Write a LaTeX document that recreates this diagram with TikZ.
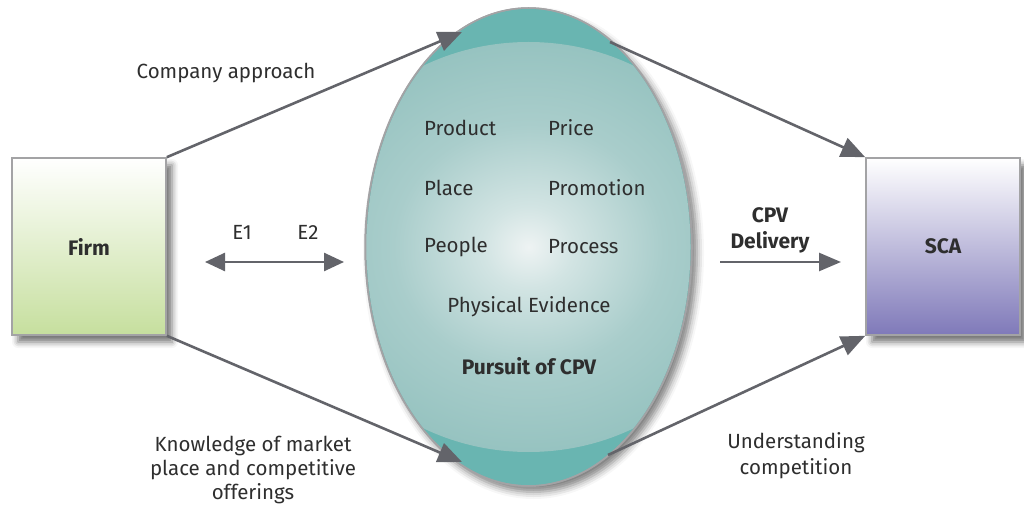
\documentclass[tikz,border=0pt]{standalone}
\usepackage{fontspec}
\setmainfont{Fira Sans}
\usetikzlibrary{arrows.meta,shapes.geometric,shadows.blur}
\definecolor{arrowgray}{HTML}{63646A}
\definecolor{boxborder}{HTML}{A3A3A5}
\definecolor{firmgreen}{HTML}{C6DF9E}
\definecolor{scapurple}{HTML}{7F79B9}
\definecolor{tealouter}{HTML}{69B5B1}
\definecolor{txt}{HTML}{2E2E2E}
\definecolor{sh0}{HTML}{EEF3F3}
\definecolor{sh1}{HTML}{D2E4E3}
\definecolor{sh2}{HTML}{A9CDCB}
\definecolor{sh3}{HTML}{8DBEBB}
\definecolor{sh4}{HTML}{7DB4B1}
\pgfdeclareradialshading{cpvshade}{\pgfpoint{0bp}{0bp}}{%
  color(0bp)=(sh0);
  color(5bp)=(sh1);
  color(15bp)=(sh2);
  color(30bp)=(sh3);
  color(50bp)=(sh4)}
\tikzset{
  conn/.style={draw=arrowgray, line width=2.6pt, -{Triangle[length=24pt,width=20pt]}},
  dconn/.style={draw=arrowgray, line width=2.6pt, {Triangle[length=20pt,width=18pt]}-{Triangle[length=20pt,width=18pt]}},
  sidebox/.style={draw=boxborder, line width=1.6pt, minimum width=154pt, minimum height=177pt, inner sep=0pt,
    blur shadow={shadow xshift=6pt, shadow yshift=-7pt, shadow blur radius=6pt, shadow opacity=55}},
  lbl/.style={text=txt, font=\fontsize{20.5}{25}\selectfont, inner sep=0pt, align=center},
  blbl/.style={lbl, font=\fontsize{21}{26}\selectfont\bfseries},
}
\begin{document}
\begin{tikzpicture}[x=1pt,y=-1pt]
\useasboundingbox (0,0) rectangle (1024,510);
% boxes
\node[sidebox, top color=white, bottom color=firmgreen] (firm) at (89,246.5) {};
\node[blbl] at (firm.center) {Firm};
\node[sidebox, top color=white, bottom color=scapurple] (sca) at (943,246.5) {};
\node[blbl] at (sca.center) {SCA};
% ellipse
\node[ellipse, fill=tealouter, draw=boxborder, line width=1.5pt, minimum width=327pt, minimum height=478pt, inner sep=0pt,
  blur shadow={shadow xshift=5pt, shadow yshift=-6pt, shadow blur radius=7pt, shadow opacity=50}] (cpv) at (528.5,247) {};
\begin{scope}
  \clip (528.5,247) ellipse [x radius=162pt, y radius=238pt];
  \shade[shading=cpvshade] (528.5,247) ellipse [x radius=225pt, y radius=205pt];
\end{scope}
\draw[draw=boxborder, line width=1.5pt] (528.5,247) ellipse [x radius=163pt, y radius=239pt];
% coordinates for arrow ends
\coordinate (tl) at (462,32);
\coordinate (bl) at (462,462);
\coordinate (tr) at (610,42);
\coordinate (br) at (608,455);
\coordinate (e1) at (205,262);
\coordinate (e2) at (344,262);
\coordinate (d1) at (720,262);
\coordinate (d2) at (841,262);
% connectors
\draw[conn] (firm.north east) -- (tl);
\draw[conn] (firm.south east) -- (bl);
\draw[conn] (tr) -- (sca.north west);
\draw[conn] (br) -- (sca.south west);
\draw[dconn] (e1) -- (e2);
\draw[conn, -{Triangle[length=22pt,width=18pt]}] (d1) -- (d2);
% labels
\node[lbl] (ca) at (226,73) {Company approach};
\node[lbl] (le1) at (242,232) {E1};
\node[lbl] (le2) at (308,232) {E2};
\node[lbl, anchor=west] (p1) at (424,128) {Product};
\node[lbl, anchor=west] (p2) at (548,128) {Price};
\node[lbl, anchor=west] (p3) at (424,188) {Place};
\node[lbl, anchor=west] (p4) at (548,188) {Promotion};
\node[lbl, anchor=west] (p5) at (424,247) {People};
\node[lbl, anchor=west] (p6) at (548,247) {Process};
\node[lbl] (p7) at (529,307) {Physical Evidence};
\node[blbl] (pc) at (529,366) {Pursuit of CPV};
\node[blbl] (cd) at (770,230) {CPV\\Delivery};
\node[lbl, font=\fontsize{20.5}{24}\selectfont] (km) at (253,470) {Knowledge of market\\place and competitive\\offerings};
\node[lbl, font=\fontsize{20.5}{26}\selectfont] (uc) at (796,456) {Understanding\\competition};
\end{tikzpicture}
\end{document}
